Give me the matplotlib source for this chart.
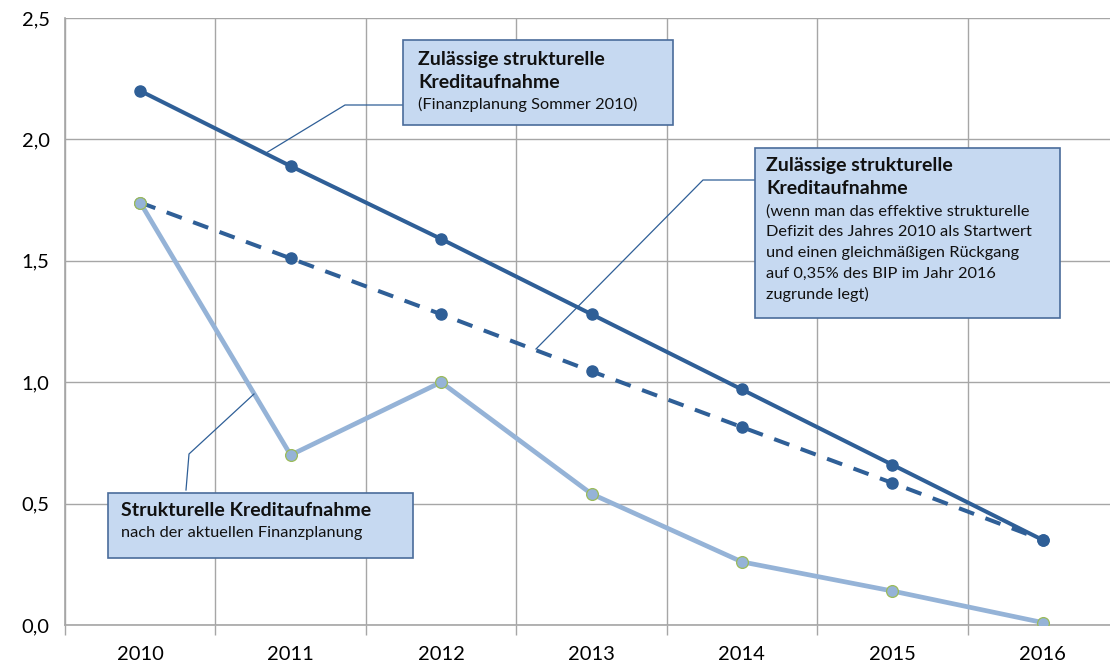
import numpy as np
import matplotlib
matplotlib.use('Agg')
import matplotlib.pyplot as plt
from matplotlib.patches import Rectangle

plt.rcParams['font.family'] = ['Lato', 'DejaVu Sans']

jahre = ['2010', '2011', '2012', '2013', '2014', '2015', '2016']
zulaessig_2010 = [2.20, 1.89, 1.59, 1.28, 0.97, 0.66, 0.35]
zulaessig_effektiv = [1.74, 1.51, 1.28, 1.045, 0.815, 0.585, 0.35]
aktuell = [1.74, 0.70, 1.00, 0.54, 0.26, 0.14, 0.01]
y_ticks = [0.0, 0.5, 1.0, 1.5, 2.0, 2.5]

dunkel = '#2F5F97'
hell = '#95B3D7'
gruen = '#9BBB59'
box_fill = '#C6D9F1'
box_edge = '#4A6C9B'
grid_c = '#A6A6A6'

W, H = 1110, 664
fig = plt.figure(figsize=(W / 100, H / 100), dpi=100)
# rechte Kante liegt knapp ausserhalb des Bildes (wie im Original)
ax = fig.add_axes([65 / W, (H - 625) / H, (1118 - 65) / W, (625 - 18) / H])

x = np.arange(len(jahre))

ax.plot(x, zulaessig_2010, color=dunkel, lw=2.9, marker='o', ms=8,
        mfc=dunkel, mec=dunkel, zorder=5)
ax.plot(x, zulaessig_effektiv, color=dunkel, lw=2.9, ls=(0, (4, 3)), marker='o', ms=8,
        mfc=dunkel, mec=dunkel, zorder=4)
ax.plot(x, aktuell, color=hell, lw=3.4, marker='o', ms=8.5,
        mfc=hell, mec=gruen, mew=0.9, zorder=6)

# Gitter: horizontal an y-Ticks, vertikal zwischen den Kategorien
ax.set_yticks(y_ticks)
ax.set_yticklabels([f'{v:.1f}'.replace('.', ',') for v in y_ticks], fontsize=14.5)
ax.set_xticks(x)
ax.set_xticklabels(jahre, fontsize=14.5)
ax.set_xticks(np.arange(-0.5, 6.5, 1), minor=True)
ax.tick_params(axis='x', which='major', length=0, pad=15)
ax.tick_params(axis='x', which='minor', length=7, color=grid_c, width=1)
ax.tick_params(axis='y', length=0, pad=11)
ax.grid(axis='y', color=grid_c, lw=1)
ax.grid(axis='x', which='minor', color=grid_c, lw=1)
ax.set_xlim(-0.5, 6.5)
ax.set_ylim(0, 2.5)
for s in ['top', 'right']:
    ax.spines[s].set_visible(False)
for s in ['left', 'bottom']:
    ax.spines[s].set_color(grid_c)
    ax.spines[s].set_linewidth(1.2)


def P(px, py):
    return (px / 100, (H - py) / 100)


tr = fig.dpi_scale_trans


def box(x0, y0, x1, y1):
    (a, b), (c, d) = P(x0, y1), P(x1, y0)
    fig.patches.append(Rectangle((a, b), c - a, d - b, transform=tr,
                                 facecolor=box_fill, edgecolor=box_edge, lw=1.2, zorder=10))


def leader(pts):
    xs, ys = zip(*[P(*p) for p in pts])
    fig.lines.append(plt.Line2D(xs, ys, transform=tr, color=dunkel, lw=0.9, zorder=9))


def txt(px, py, s, bold=False, size=11.8):
    fig.text(*P(px, py), s, transform=tr, fontsize=size, va='center', ha='left',
             fontweight='bold' if bold else 'normal', color='#111111', zorder=11)


# Box 1
leader([(403, 105), (345, 105), (266, 153)])
box(403, 40, 673, 125)
txt(418, 59, 'Zulässige strukturelle', True, 14)
txt(418, 82, 'Kreditaufnahme', True, 14)
txt(418, 104, '(Finanzplanung Sommer 2010)')

# Box 2
leader([(755, 180), (703, 180), (536, 349)])
box(755, 148, 1060, 318)
txt(766, 166, 'Zulässige strukturelle', True, 14)
txt(766, 189, 'Kreditaufnahme', True, 14)
for i, s in enumerate(['(wenn man das effektive strukturelle',
                       'Defizit des Jahres 2010 als Startwert',
                       'und einen gleichmäßigen Rückgang',
                       'auf 0,35% des BIP im Jahr 2016',
                       'zugrunde legt)']):
    txt(766, 212 + i * 20.5, s)

# Box 3
leader([(186, 490), (189, 454), (254, 394)])
box(108, 493, 413, 558)
txt(121, 511, 'Strukturelle Kreditaufnahme', True, 14)
txt(121, 533, 'nach der aktuellen Finanzplanung')

fig.savefig('out.png', dpi=100)
